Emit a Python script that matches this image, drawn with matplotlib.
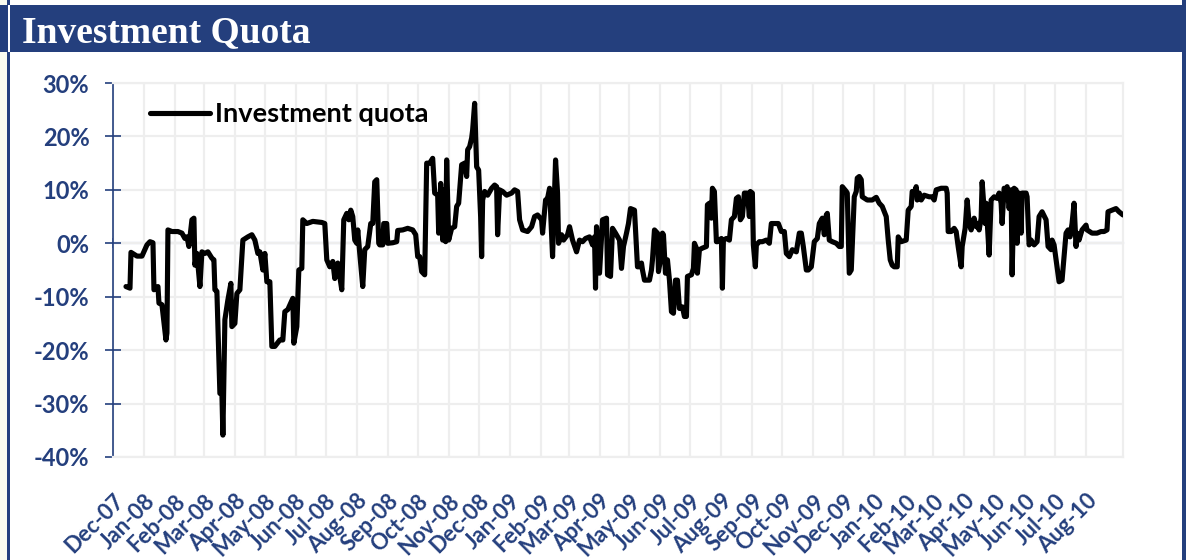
import numpy as np
import pandas as pd
import matplotlib.pyplot as plt
from matplotlib.patches import Rectangle
from matplotlib.ticker import FuncFormatter

# Dane: dni od startu i wartosc wskaznika (%)
start = '2007-12-01'
day = [13, 17, 18, 24, 29, 34, 37, 40, 41, 45, 46, 49, 53, 54, 55, 59, 65, 69, 72, 74,
       76, 79, 81, 82, 84, 87, 89, 92, 95, 99, 101, 102, 104, 107, 109, 110, 112, 115, 118, 119,
       122, 124, 127, 130, 135, 139, 142, 145, 147, 150, 152, 154, 157, 159, 162, 167, 170, 172, 175, 180,
       181, 184, 186, 189, 190, 194, 200, 209, 212, 214, 217, 220, 222, 224, 225, 229, 231, 234, 236, 238,
       240, 242, 244, 245, 247, 250, 252, 255, 258, 260, 262, 264, 266,
       267, 270, 271, 274, 275, 280, 284, 285, 290, 295, 300, 303, 305, 307, 309, 312, 314, 317, 320, 322,
       325, 326, 328, 330, 331, 333, 334, 336, 339, 342, 344, 346, 349, 352, 354, 355, 357, 359, 360, 362,
       364, 366, 368, 369, 370, 372, 375, 379, 382, 384, 385, 387, 390, 394, 399, 402, 405, 407, 410, 415,
       419, 422, 425, 429, 430, 433, 435, 437, 439, 440, 443, 445, 446, 449, 451, 455, 457, 460, 464, 467,
       470, 473, 477, 480, 482, 483, 484, 487, 490, 494, 495, 498, 500, 503, 507, 509, 511, 514, 516, 518,
       522, 525, 527,
       529, 530, 532, 537, 539, 540, 542, 545, 546, 548, 550, 551, 553, 555, 557, 559, 561, 563, 565, 567,
       570, 572, 574, 575, 579, 581, 582, 584, 585, 587, 590, 594, 595, 597, 599, 600, 602, 604, 605, 609,
       610, 611, 614, 617, 619, 622, 624, 626, 628, 630, 632, 635, 637, 638, 640, 641, 643, 644, 647, 650,
       654, 657, 659, 664, 666, 669, 672, 674, 677, 680, 684, 687, 689, 691, 694, 696, 699, 702, 705, 707,
       710, 712, 714, 715, 717, 720, 724, 727, 729, 730, 734, 735, 737, 739, 742, 744, 745, 747, 749, 750,
       755, 760, 764,
       767, 770, 774, 776, 778, 780, 782, 785, 786, 789, 794, 796, 799, 800, 802, 804, 805, 807, 809, 812,
       817, 820, 822, 824, 829, 834, 835, 836, 839, 842, 844, 846, 849, 850, 853, 855, 857, 859, 860, 862,
       864, 865, 867, 869, 870, 873, 874, 877, 879, 882, 885, 887, 889, 890, 892, 894, 895, 897, 899, 900,
       902, 904, 905, 907, 909, 910, 914, 915, 917, 919, 922, 925, 927, 930, 934, 936, 939, 940, 942, 945,
       947, 950, 952, 954, 956, 958, 960, 962, 964, 965, 967, 970, 974, 975, 980, 985, 989, 992, 995, 996,
       1000, 1004, 1007, 1009, 1011]
quota = [-8.1, -8.4, -1.7, -2.4, -2.4, -0.3, 0.3, 0.1, -8.7, -8.1, -11.2, -11.5, -18.1, -16.8, 2.5, 2.2, 2.2, 1.9, 0.9, 1.2,
         -0.6, 4.4, 4.7, -4.1, -1.9, -8.1, -1.6, -1.9, -1.6, -2.8, -3.1, -8.7, -9.0, -28.1, -28.1, -35.9, -14.3, -10.6, -7.5, -15.6,
         -15.0, -9.4, -8.7, 0.6, 1.2, 1.6, 0.6, -1.9, -1.6, -5.0, -1.9, -7.2, -7.2, -19.3, -19.3, -18.1, -18.1, -12.8, -12.4, -10.3,
         -18.7, -15.6, -5.0, -4.7, 4.4, 3.7, 4.1, 3.9, 3.7, -3.1, -4.4, -3.4, -6.6, -4.4, -3.7, -8.7, 4.4, 5.6, 4.4, 6.2,
         5.0, 0.6, 0.0, 2.5, -1.9, -8.1, -1.2, -0.6, 3.7, 3.7, 11.5, 11.9, 0.0,
         -0.3, -0.3, 3.7, 3.7, 0.0, 0.1, 0.3, 2.4, 2.5, 2.8, 2.5, 1.6, -2.5, -2.5, -5.3, -5.9, 15.0, 15.0, 15.9, 9.4,
         9.0, 1.9, 11.2, 0.6, 10.0, 0.3, 15.6, 0.6, 2.8, 3.1, 6.9, 7.5, 14.7, 15.0, 12.5, 17.5, 18.1, 19.7, 21.2, 26.2,
         14.3, 13.7, 5.0, -2.5, 8.1, 9.7, 9.0, 10.3, 10.9, 10.6, 1.6, 10.0, 9.7, 9.0, 9.4, 10.0, 9.7, 4.4, 2.5, 2.2,
         3.1, 5.0, 5.3, 4.4, 1.9, 8.1, 8.4, 10.3, 1.9, -2.5, 15.6, 9.4, 0.0, 1.6, 0.6, 1.6, 3.1, 0.6, -1.6, 0.6,
         0.3, 0.9, 1.2, -0.3, 1.2, -8.4, 3.1, -5.6, 4.4, 4.7, -5.9, -6.2, 2.8, 1.9, 0.6, -4.7, -0.6, 1.9, 3.7, 6.5,
         6.2, -4.4, -4.4,
         -3.7, -5.0, -6.9, -6.9, -5.0, -3.1, 2.5, 1.9, -5.3, -3.1, 1.9, 1.6, -5.6, -3.1, -6.9, -12.8, -13.1, -6.9, -6.9, -12.2,
         -11.9, -13.7, -13.7, -6.2, -5.9, -4.7, 0.0, -0.9, -5.6, -1.2, -0.9, -0.6, 7.2, 7.5, 4.7, 10.3, 9.7, 0.3, 0.3, 0.9,
         -8.4, 0.6, 0.9, 0.6, 4.4, 5.0, 8.4, 8.7, 4.4, 5.0, 9.4, 9.4, 5.0, 9.7, 9.4, -0.3, -4.4, -0.3, 0.3, 0.3,
         0.6, 0.0, 3.7, 3.7, 3.7, 2.2, 2.2, -1.9, -2.5, -1.2, -1.6, 1.9, 1.9, -0.6, -5.0, -5.0, -4.4, 0.3, 0.9, 3.7,
         4.7, 1.6, 5.3, 5.6, 0.6, 0.3, 0.0, -0.6, -0.6, 10.6, 9.7, 9.4, -5.6, -5.0, 8.7, 9.7, 12.2, 12.5, 11.9, 8.7,
         8.1, 8.1, 8.6,
         7.5, 6.9, 5.0, 0.6, -3.1, -4.1, -4.4, -4.4, 1.2, 0.3, 0.6, 6.2, 6.9, 9.7, 9.4, 10.6, 8.1, 9.4, 8.1, 9.0,
         8.7, 8.7, 8.1, 10.0, 10.3, 10.3, 9.4, 2.2, 2.2, 2.8, 2.2, -0.6, -4.4, -0.6, 2.8, 8.1, 3.7, 2.5, 3.4, 4.7,
         3.1, 3.7, 2.5, 4.7, 11.5, 3.7, 7.5, -2.2, 8.1, 8.7, 8.4, 9.4, 7.5, 3.7, 10.3, 9.7, 10.6, 6.5, 10.0, -5.9,
         10.3, 10.0, 0.0, 9.4, 1.9, 9.4, 9.4, 8.7, -0.3, 0.6, -0.3, 0.3, 5.0, 5.9, 4.4, -0.6, -1.2, 0.6, -0.3, -4.4,
         -7.2, -6.9, -2.5, 1.9, 2.5, 1.2, 3.7, 7.5, -0.6, 1.9, 0.6, 2.5, 3.4, 2.5, 1.9, 1.9, 2.2, 2.2, 2.5, 5.9,
         6.2, 6.5, 5.9, 5.6, 5.3]
month_ticks = pd.date_range('2007-12-01', '2010-08-01', freq='MS')
month_labels = [d.strftime('%b-%y') for d in month_ticks]
y_ticks = [-40, -30, -20, -10, 0, 10, 20, 30]

dates = pd.Timestamp(start) + pd.to_timedelta(day, unit='D')

navy = '#243F7D'
W, H = 1203, 560

plt.rcParams['font.family'] = ['Lato', 'DejaVu Sans']
fig = plt.figure(figsize=(W / 100, H / 100), dpi=100)
fig.patch.set_facecolor('white')

# Ramka i pasek tytulu
fig.add_artist(Rectangle((0, 0), 7 / W, 1, transform=fig.transFigure, color='#F9FBEF', lw=0))
fig.add_artist(Rectangle((7 / W, 0), 3 / W, 1, transform=fig.transFigure, color=navy, lw=0))
fig.add_artist(Rectangle((1182 / W, 0), 4 / W, 1, transform=fig.transFigure, color=navy, lw=0))
fig.add_artist(Rectangle((0, 1 - 52 / H), 1186 / W, 47 / H, transform=fig.transFigure, color=navy, lw=0))
fig.add_artist(Rectangle((8 / W, 1 - 52 / H), 2 / W, 47 / H, transform=fig.transFigure, color='white', lw=0))
fig.text(22 / W, 1 - 42 / H, 'Investment Quota', color='white', fontsize=27, fontweight='bold',
         family='Liberation Serif', va='baseline', ha='left')

ax = fig.add_axes([113 / W, 1 - 457 / H, 1010 / W, 374 / H])
ax.plot(dates, quota, color='black', lw=3.7, solid_joinstyle='round', solid_capstyle='round',
        label='Investment quota', zorder=3)

ax.set_ylim(-40, 30)
ax.set_xlim(pd.Timestamp(start), dates[-1])
ax.set_yticks(y_ticks)
ax.yaxis.set_major_formatter(FuncFormatter(lambda v, p: f'{v:.0f}%'))
ax.set_xticks(month_ticks)
ax.set_xticklabels(month_labels, rotation=45, ha='right', va='top', rotation_mode='anchor')

ax.set_axisbelow(True)
ax.grid(True, color='#EEEEEE', lw=1.6)
for s in ['top', 'right', 'bottom']:
    ax.spines[s].set_color('#EEEEEE')
    ax.spines[s].set_linewidth(1.6)
ax.spines['left'].set_color(navy)
ax.spines['left'].set_linewidth(1.2)

ax.tick_params(axis='y', direction='inout', length=12, width=1.2, color=navy,
               labelsize=17, labelcolor=navy, pad=11)
ax.tick_params(axis='x', length=0, labelsize=16, labelcolor=navy, pad=24)
for lab in ax.get_xticklabels() + ax.get_yticklabels():
    lab.set_fontweight('bold')

# os pozioma w zerze
y0 = (0 - ax.get_ylim()[0]) / (ax.get_ylim()[1] - ax.get_ylim()[0])
sec = ax.secondary_xaxis(y0)
sec.set_xticks(month_ticks)
sec.tick_params(direction='inout', length=7, width=1.2, color='#7186BB',
                labeltop=False, labelbottom=False)
for s in ['top', 'bottom']:
    sec.spines[s].set_color('#7186BB')
    sec.spines[s].set_linewidth(1.5)

leg = ax.legend(loc='center left', bbox_to_anchor=((150 - 113) / 1010, (457 - 114) / 374),
                frameon=False, borderaxespad=0, borderpad=0, handlelength=2.2, handletextpad=0.2,
                prop={'size': 19.5, 'weight': 'bold'})

fig.savefig('out.png', dpi=100)
